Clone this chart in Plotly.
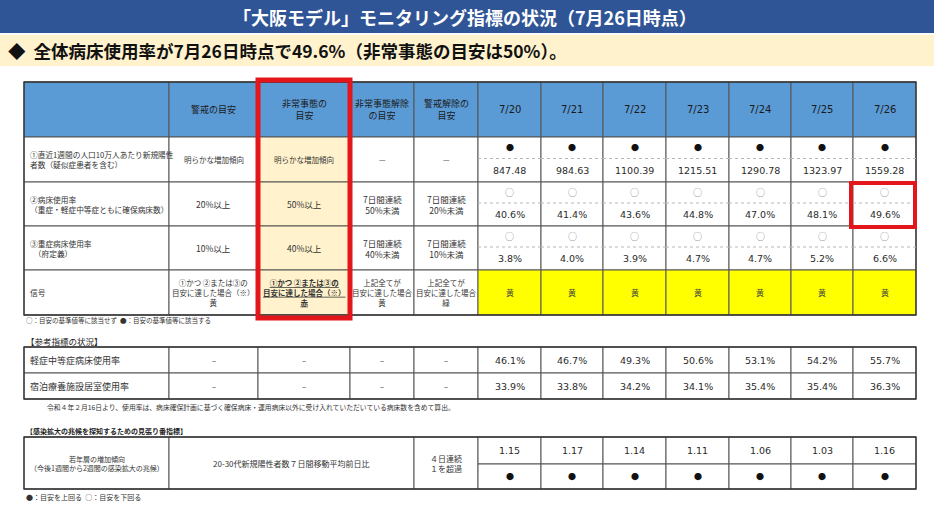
import plotly.graph_objects as go

# ── Data ─────────────────────────────────────────────────────────────────────
dates = ["7/20", "7/21", "7/22", "7/23", "7/24", "7/25", "7/26"]
new_cases_per100k = [847.48, 984.63, 1100.39, 1215.51, 1290.78, 1323.97, 1559.28]
bed_rate = [40.6, 41.4, 43.6, 44.8, 47.0, 48.1, 49.6]
severe_rate = [3.8, 4.0, 3.9, 4.7, 4.7, 5.2, 6.6]
signal = ["黄", "黄", "黄", "黄", "黄", "黄", "黄"]
new_cases_flag = ["●", "●", "●", "●", "●", "●", "●"]
bed_flag = ["○", "○", "○", "○", "○", "○", "○"]
severe_flag = ["○", "○", "○", "○", "○", "○", "○"]

mild_rate = [46.1, 46.7, 49.3, 50.6, 53.1, 54.2, 55.7]
hotel_rate = [33.9, 33.8, 34.2, 34.1, 35.4, 35.4, 36.3]

youth_ratio = [1.15, 1.17, 1.14, 1.11, 1.06, 1.03, 1.16]
youth_flag = ["●", "●", "●", "●", "●", "●", "●"]

header_labels = ["", "警戒の目安", "非常事態の<br>目安", "非常事態解除<br>の目安", "警戒解除の<br>目安"]
row_labels = [
    "①直近1週間の人口10万人あたり新規陽性<br>者数（疑似症患者を含む）",
    "②病床使用率<br>（重症・軽症中等症ともに確保病床数）",
    "③重症病床使用率<br>　（府定義）",
    "信号",
]
criteria = [
    ["明らかな増加傾向", "明らかな増加傾向", "—", "—"],
    ["20%以上", "50%以上", "7日間連続<br>50%未満", "7日間連続<br>20%未満"],
    ["10%以上", "40%以上", "7日間連続<br>40%未満", "7日間連続<br>10%未満"],
    ["①かつ ②または③の<br>目安に達した場合（※）<br>黄",
     "<b><u>①かつ ②または③の</u><br><u>目安に達した場合（※）</u><br><u>赤</u></b>",
     "上記全てが<br>目安に達した場合<br>黄",
     "上記全てが<br>目安に達した場合<br>緑"],
]
criteria_size = [7.5, 8.5, 8.5, 7.5]
ref_labels = ["軽症中等症病床使用率", "宿泊療養施設居室使用率"]

# ── Layout constants ─────────────────────────────────────────────────────────
W, H = 934, 525
FONT = "Noto Sans CJK JP"
NUM_FONT = "DejaVu Sans"
HEAD_BLUE = "#5b9bd5"
PALE = "#fff2cc"
LINE = "#555555"
RED = "#e3161c"

cols = [24, 169, 258, 350, 414, 478]
date_edges = [478, 541, 603, 666, 729, 791, 853, 916]
right = date_edges[-1]

shapes = []
annots = []


def rect(x0, y0, x1, y1, fill="white", line=LINE, width=1, dash=None):
    shapes.append(dict(type="rect", xref="x", yref="y", x0=x0, y0=y0, x1=x1, y1=y1,
                       fillcolor=fill, line=dict(color=line, width=width, dash=dash),
                       layer="below"))


def hline(x0, x1, y, color=LINE, width=1, dash=None):
    shapes.append(dict(type="line", xref="x", yref="y", x0=x0, x1=x1, y0=y, y1=y,
                       line=dict(color=color, width=width, dash=dash)))


def text(x, y, s, size=8, color="#333333", anchor="center", family=FONT):
    annots.append(dict(x=x, y=y, xref="x", yref="y", text=s, showarrow=False,
                       xanchor=anchor, yanchor="middle", align=anchor if anchor != "center" else "center",
                       font=dict(family=family, size=size, color=color)))


# ── Title bars ───────────────────────────────────────────────────────────────
rect(0, 0, W, 33, fill="#2f5597", line="#2f5597", width=0)
text(W / 2 - 2, 17, "<b>「大阪モデル」モニタリング指標の状況（7月26日時点）</b>", size=18, color="white")
rect(0, 35, W, 66, fill=PALE, line=PALE, width=0)
text(6, 50, "<b>◆  全体病床使用率が7月26日時点で49.6%（非常事態の目安は50%）。</b>",
     size=17.5, color="#111111", anchor="left")

# ── Main table ───────────────────────────────────────────────────────────────
top, head_bot = 82, 137
row_edges = [137, 182, 226, 270, 315]

all_edges = cols[:-1] + date_edges
for i in range(len(all_edges) - 1):
    rect(all_edges[i], top, all_edges[i + 1], head_bot, fill=HEAD_BLUE)
for i, lab in enumerate(header_labels):
    if lab:
        text((cols[i] + cols[i + 1]) / 2, (top + head_bot) / 2, lab, size=9, color="#1a1a1a")
for j, d in enumerate(dates):
    text((date_edges[j] + date_edges[j + 1]) / 2, (top + head_bot) / 2, d,
         size=10, color="#1a1a1a", family=NUM_FONT)

date_rows = [
    (new_cases_flag, [f"{v:.2f}" for v in new_cases_per100k]),
    (bed_flag, [f"{v:.1f}%" for v in bed_rate]),
    (severe_flag, [f"{v:.1f}%" for v in severe_rate]),
]

for r in range(4):
    y0, y1 = row_edges[r], row_edges[r + 1]
    ym = (y0 + y1) / 2
    rect(cols[0], y0, cols[1], y1)
    text(cols[0] + 4, ym, row_labels[r], size=7.7, anchor="left")
    for c in range(4):
        fill = PALE if c == 1 else "white"
        rect(cols[c + 1], y0, cols[c + 2], y1, fill=fill)
        text((cols[c + 1] + cols[c + 2]) / 2, ym, criteria[r][c], size=criteria_size[r])
    for j in range(7):
        xa, xb = date_edges[j], date_edges[j + 1]
        xm = (xa + xb) / 2
        if r < 3:
            flags, vals = date_rows[r]
            ys = (y0 + y1) / 2 - 1
            rect(xa, y0, xb, y1)
            hline(xa, xb, ys, color="#b8b8b8", dash="dot")
            is_dot = flags[j] == "●"
            text(xm, (y0 + ys) / 2, flags[j], size=8 if is_dot else 9,
                 color="#111111" if is_dot else "#8a8a8a")
            text(xm, (ys + y1) / 2, vals[j], size=9.5, color="#2a2a2a", family=NUM_FONT)
        else:
            rect(xa, y0, xb, y1, fill="#ffff00")
            text(xm, ym, signal[j], size=8, color="#444444")

rect(cols[0], top, right, row_edges[-1], fill="rgba(0,0,0,0)", line="#333333", width=1.3)

# red highlight boxes
shapes.append(dict(type="rect", xref="x", yref="y", x0=258, y0=80, x1=350, y1=318,
                   line=dict(color=RED, width=5), fillcolor="rgba(0,0,0,0)"))
shapes.append(dict(type="rect", xref="x", yref="y", x0=date_edges[6] - 2, y0=row_edges[1] + 1,
                   x1=right - 1, y1=row_edges[2] + 1,
                   line=dict(color=RED, width=4), fillcolor="rgba(0,0,0,0)"))

text(cols[0], 320, "○：目安の基準値等に該当せず  ●：目安の基準値等に該当する",
     size=6.5, color="#333333", anchor="left")

# ── Reference indicators ─────────────────────────────────────────────────────
text(cols[0], 341, "【参考指標の状況】", size=8.5, color="#222222", anchor="left")
ref_edges = [347, 373, 399]
ref_vals = [mild_rate, hotel_rate]
for r in range(2):
    y0, y1 = ref_edges[r], ref_edges[r + 1]
    ym = (y0 + y1) / 2
    rect(cols[0], y0, cols[1], y1)
    text(cols[0] + 4, ym, ref_labels[r], size=9, anchor="left")
    for c in range(4):
        rect(cols[c + 1], y0, cols[c + 2], y1)
        text((cols[c + 1] + cols[c + 2]) / 2, ym, "–", size=8)
    for j in range(7):
        rect(date_edges[j], y0, date_edges[j + 1], y1)
        text((date_edges[j] + date_edges[j + 1]) / 2, ym, f"{ref_vals[r][j]:.1f}%",
             size=9.5, color="#2a2a2a", family=NUM_FONT)
rect(cols[0], ref_edges[0], right, ref_edges[-1], fill="rgba(0,0,0,0)", line="#333333", width=1.3)
text(251, 407, "令和４年２月16日より、使用率は、病床確保計画に基づく確保病床・運用病床以外に受け入れていただいている病床数を含めて算出。",
     size=6.8, color="#333333")

# ── Watch indicator ──────────────────────────────────────────────────────────
text(cols[0], 431, "<b>【感染拡大の兆候を探知するための見張り番指標】</b>", size=7, color="#222222", anchor="left")
wt, wb, wm = 437, 489, 464
rect(cols[0], wt, cols[1], wb)
text((cols[0] + cols[1]) / 2, (wt + wb) / 2, "若年層の増加傾向<br>（今後1週間から2週間の感染拡大の兆候）", size=7)
rect(cols[1], wt, cols[4], wb)
text((cols[1] + cols[4]) / 2, (wt + wb) / 2, "20-30代新規陽性者数７日間移動平均前日比", size=8)
rect(cols[4], wt, cols[5], wb)
text((cols[4] + cols[5]) / 2, (wt + wb) / 2, "４日連続<br>１を超過", size=8)
for j in range(7):
    xa, xb = date_edges[j], date_edges[j + 1]
    xm = (xa + xb) / 2
    rect(xa, wt, xb, wm)
    rect(xa, wm, xb, wb)
    text(xm, (wt + wm) / 2, f"{youth_ratio[j]:.2f}", size=9.5, color="#2a2a2a", family=NUM_FONT)
    text(xm, (wm + wb) / 2, youth_flag[j], size=8, color="#111111")
rect(cols[0], wt, right, wb, fill="rgba(0,0,0,0)", line="#333333", width=1.3)
text(cols[0], 497, "●：目安を上回る  ○：目安を下回る", size=7, color="#333333", anchor="left")

# ── Figure ───────────────────────────────────────────────────────────────────
fig = go.Figure()
fig.update_layout(
    width=W, height=H,
    margin=dict(t=0, l=0, r=0, b=0),
    paper_bgcolor="white",
    plot_bgcolor="white",
    xaxis=dict(range=[0, W], visible=False, fixedrange=True),
    yaxis=dict(range=[H, 0], visible=False, fixedrange=True),
    shapes=shapes,
    annotations=annots,
    showlegend=False,
)
# drop the browser's default body margin so the 934x525 canvas fills the window
fig.write_html("out.html", config={"displayModeBar": False},
               post_script="document.body.style.margin='0';document.body.style.overflow='hidden';")
